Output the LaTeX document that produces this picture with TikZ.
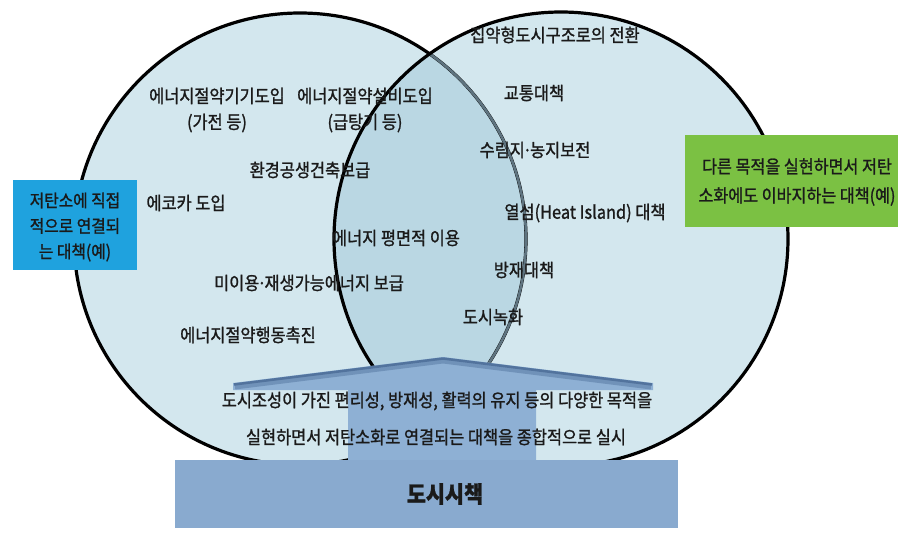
\documentclass[tikz,border=0pt]{standalone}
\usepackage{fontspec}
\setmainfont{Noto Sans CJK KR}[FakeStretch=0.9,FakeBold=1.2]
\definecolor{circfill}{HTML}{D3E7EE}
\definecolor{overfill}{HTML}{BAD7E3}
\definecolor{bluebox}{HTML}{1FA2DE}
\definecolor{greenbox}{HTML}{7BC143}
\definecolor{basefill}{HTML}{89AACF}
\definecolor{arrowfill}{HTML}{8EB0D4}
\definecolor{arrowedge}{HTML}{52739D}
\definecolor{txt}{HTML}{1A1A1A}
\definecolor{innerarc}{HTML}{5F7480}
\newcommand{\mdot}{\kern-2pt·\kern-2pt}
\begin{document}
\begin{tikzpicture}[x=1pt,y=-1pt,
  lbl/.style={text=txt,font=\fontsize{18.2}{26}\selectfont,inner sep=0pt,align=center},
  boxlbl/.style={text=txt,inner sep=0pt,align=center},
  outline/.style={line width=3.2pt,draw=black}]
\useasboundingbox (0,0) rectangle (898,538);
% circles
\path[fill=circfill] (300,239) circle[radius=226];
\path[fill=circfill] (561,239) circle[radius=227];
\begin{scope}
  \clip (300,239) circle[radius=226];
  \fill[overfill] (561,239) circle[radius=227];
\end{scope}
\draw[outline] (300,239) circle[radius=226];
\begin{scope}
  \clip (561,239) circle[radius=227];
  \draw[innerarc,line width=2.6pt] (300,239) circle[radius=226];
\end{scope}
\draw[outline] (561,239) circle[radius=227];
% side boxes
\node[fill=bluebox,minimum width=124pt,minimum height=90pt,inner sep=0pt] (lbox) at (75,225) {};
\node[boxlbl,font=\fontsize{17.5}{25.5}\selectfont] (ltext) at (75,227) {저탄소에 직접\\적으로 연결되\\는 대책(예)};
\node[fill=greenbox,minimum width=213pt,minimum height=92pt,inner sep=0pt] (rbox) at (791.5,181) {};
\node[boxlbl,font=\fontsize{18}{29}\selectfont] (rtext) at (797,182) {다른 목적을 실현하면서 저탄\\소화에도 이바지하는 대책(예)};
% left circle labels
\node[lbl] (a1) at (217,110) {에너지절약기기도입\\(가전 등)};
\node[lbl] (a2) at (365,110) {에너지절약설비도입\\(급탕기 등)};
\node[lbl] (a3) at (310,170) {환경공생건축보급};
\node[lbl] (a4) at (186,203) {에코카 도입};
\node[lbl] (a5) at (396,238) {에너지 평면적 이용};
\node[lbl] (a6) at (309,283) {미이용\mdot 재생가능에너지 보급};
\node[lbl] (a7) at (248,335) {에너지절약행동촉진};
% right circle labels
\node[lbl] (b1) at (555,35) {집약형도시구조로의 전환};
\node[lbl] (b2) at (534,93) {교통대책};
\node[lbl] (b3) at (535,150) {수림지\mdot 농지보전};
\node[lbl] (b4) at (585,213) {열섬(Heat Island) 대책};
\node[lbl] (b5) at (524,270) {방재대책};
\node[lbl] (b6) at (493,317) {도시녹화};
% arrow
\fill[arrowfill] (233,383) -- (443,357) -- (653,383) -- (653,390) -- (536,390)
  -- (536,460) -- (348,460) -- (348,390) -- (233,390) -- cycle;
\draw[arrowedge!50!arrowfill,line width=5pt,line join=round] (235,387) -- (443,361) -- (651,387);
\draw[arrowedge,line width=2.5pt,line join=round] (234,384.5) -- (443,358.5) -- (652,384.5);
\node[lbl] (c1) at (437,401) {도시조성이 가진 편리성, 방재성, 활력의 유지 등의 다양한 목적을};
\node[lbl] (c2) at (436,437) {실현하면서 저탄소화로 연결되는 대책을 종합적으로 실시};
% base
\node[fill=basefill,minimum width=503pt,minimum height=68pt,inner sep=0pt,anchor=north west] (base) at (175,460) {};
\node[text=txt,inner sep=0pt,font=\fontsize{23}{26}\bfseries\selectfont] (basetext) at (445,494) {도시시책};
\end{tikzpicture}
\end{document}
